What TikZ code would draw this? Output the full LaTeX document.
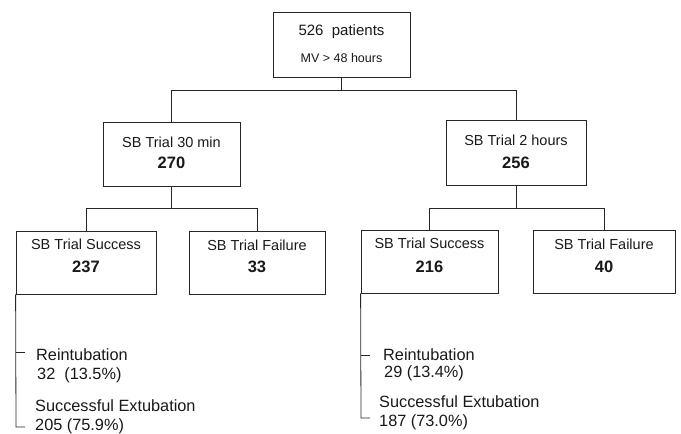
\documentclass[tikz,border=0pt]{standalone}
\usepackage{fontspec}
\setmainfont{Liberation Sans}
\begin{document}
\begin{tikzpicture}[x=1pt,y=-1pt,
  line/.style={draw=black!85,line width=0.8pt},
  box/.style={line,rectangle,inner sep=0pt},
  ttl/.style={inner sep=0pt,font=\fontsize{14.5}{16}\selectfont,text=black!90},
  num/.style={inner sep=0pt,font=\fontsize{16.5}{18}\selectfont\bfseries,text=black!90},
  res/.style={inner sep=0pt,anchor=west,font=\fontsize{16.3}{18}\selectfont,text=black!90}]
\useasboundingbox (0,0) rectangle (681,434);
% boxes
\node[box,minimum width=137pt,minimum height=65pt] (top) at (341.5,44.5) {};
\node[ttl,font=\fontsize{15}{17}\selectfont] (topa) at (341.5,32) {526\ \ patients};
\node[ttl,font=\fontsize{12.5}{14}\selectfont] (topb) at (341.5,58) {MV > 48 hours};

\node[box,minimum width=137pt,minimum height=64pt] (b1) at (171.5,154) {};
\node[ttl] (b1a) at (171.5,142) {SB Trial 30 min};
\node[num] (b1b) at (171.5,163) {270};

\node[box,minimum width=140pt,minimum height=65pt] (b2) at (516,152.5) {};
\node[ttl] (b2a) at (516,140) {SB Trial 2 hours};
\node[num] (b2b) at (516,163) {256};

\node[box,minimum width=140pt,minimum height=63pt] (s1) at (86,262.5) {};
\node[ttl] (s1a) at (86,244) {SB Trial Success};
\node[num] (s1b) at (86,267) {237};

\node[box,minimum width=136pt,minimum height=63pt] (f1) at (257,262.5) {};
\node[ttl] (f1a) at (257,245) {SB Trial Failure};
\node[num] (f1b) at (257,267) {33};

\node[box,minimum width=137pt,minimum height=63pt] (s2) at (429.5,261.5) {};
\node[ttl] (s2a) at (429.5,243) {SB Trial Success};
\node[num] (s2b) at (429.5,267) {216};

\node[box,minimum width=142pt,minimum height=63pt] (f2) at (604,261.5) {};
\node[ttl] (f2a) at (604,244) {SB Trial Failure};
\node[num] (f2b) at (604,267) {40};

% tree connectors
\coordinate (j0) at (343,90);
\coordinate (j1) at (172,208);
\coordinate (j2) at (516,208);
\draw[line] (top.south) -- (top.south |- j0);
\draw[line] (b1.north) |- (b2.north |- j0) -- (b2.north);
\draw[line] (b1.south) -- (b1.south |- j1);
\draw[line] (s1.north) |- (f1.north |- j1) -- (f1.north);
\draw[line] (b2.south) -- (b2.south |- j2);
\draw[line] (s2.north) |- (f2.north |- j2) -- (f2.north);

% outcomes left
\node[res] (r1) at (36,355) {Reintubation};
\node[res] (r1n) at (37,375) {32\ \ (13.5\%)};
\node[res] (e1) at (35,406) {Successful Extubation};
\node[res] (e1n) at (35,426) {205 (75.9\%)};
\coordinate (t1) at (16,352);
\coordinate (t2) at (16,427);
\draw[line] (s1.south west) -- (t2) -- ++(9,0);
\draw[line] (t1) -- ++(9,0);

% outcomes right
\node[res] (r2) at (383,355) {Reintubation};
\node[res] (r2n) at (384,373) {29 (13.4\%)};
\node[res] (e2) at (379,402) {Successful Extubation};
\node[res] (e2n) at (379,422) {187 (73.0\%)};
\coordinate (t3) at (361,355);
\coordinate (t4) at (361,418);
\draw[line] (s2.south west) -- (t4) -- ++(9,0);
\draw[line] (t3) -- ++(9,0);
\end{tikzpicture}
\end{document}
